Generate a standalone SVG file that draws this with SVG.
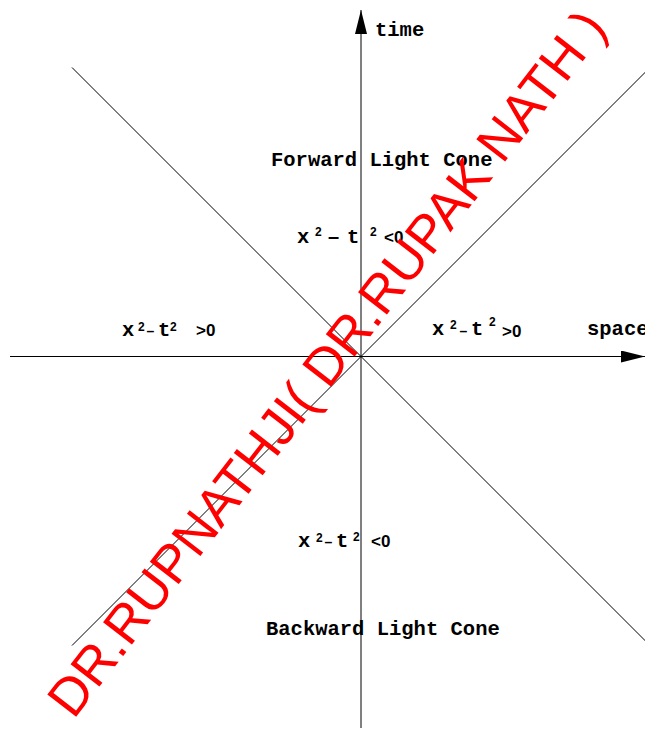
<svg xmlns="http://www.w3.org/2000/svg" width="645" height="732" viewBox="0 0 645 732">
<style>
.ln{stroke:#000;stroke-width:1;fill:none}
.m{font-family:"Liberation Mono","Courier New",monospace;font-weight:bold;font-size:20.5px;fill:#000}
.s{font-family:"Liberation Sans",Arial,sans-serif;fill:#000}
.sup{font-size:12px;font-weight:bold}
.mi{font-size:14px;font-weight:bold}
.mi2{font-size:20px;font-weight:bold}
.rel{font-size:17px;font-weight:bold}
.wm{font-family:"Liberation Sans",Arial,sans-serif;font-size:53px;fill:#ff0000}
</style>
<defs>
<marker id="ah" markerUnits="userSpaceOnUse" viewBox="0 0 24 12" refX="24" refY="6" markerWidth="24" markerHeight="12" orient="auto">
<path d="M0,0 L24,6 L0,12 z" fill="#000"/>
</marker>
</defs>
<rect width="645" height="732" fill="#fff"/>
<g id="connectors">
<line class="ln" x1="361" y1="728" x2="361" y2="10" marker-end="url(#ah)"/>
<line class="ln" x1="10" y1="356.5" x2="645" y2="356.5" marker-end="url(#ah)"/>
<line class="ln" x1="72" y1="67.5" x2="650" y2="645.5"/>
<line class="ln" x1="72" y1="645.5" x2="650" y2="67.5"/>
</g>
<g id="time-label"><text class="m" x="375" y="36">time</text></g>
<g id="space-label"><text class="m" x="587" y="335">space</text></g>
<g id="forward-cone"><text class="m" x="271" y="166">Forward Light Cone</text></g>
<g id="backward-cone"><text class="m" x="266" y="635">Backward Light Cone</text></g>
<g id="eq-top"><text class="m"><tspan x="297" y="243">x</tspan><tspan class="s sup" x="315" y="236">2</tspan><tspan class="s mi2" x="328" y="243">–</tspan><tspan x="347" y="243">t</tspan><tspan class="s sup" x="370" y="236">2</tspan><tspan class="s rel" x="384" y="243">&lt;0</tspan></text></g>
<g id="eq-left"><text class="m"><tspan x="122" y="336">x</tspan><tspan class="s sup" x="138" y="331">2</tspan><tspan class="s mi" x="146.5" y="335.5">–</tspan><tspan x="158" y="336">t</tspan><tspan class="s sup" x="170" y="331">2</tspan><tspan class="s rel" x="196" y="336">&gt;0</tspan></text></g>
<g id="eq-right"><text class="m"><tspan x="432" y="335">x</tspan><tspan class="s sup" x="450" y="329">2</tspan><tspan class="s mi" x="459.5" y="335.5">–</tspan><tspan x="471" y="335">t</tspan><tspan class="s sup" x="489" y="325.5">2</tspan><tspan class="s rel" x="502" y="337">&gt;0</tspan></text></g>
<g id="eq-bottom"><text class="m"><tspan x="298" y="547">x</tspan><tspan class="s sup" x="316" y="541.5">2</tspan><tspan class="s mi" x="324.5" y="546.5">–</tspan><tspan x="336" y="547">t</tspan><tspan class="s sup" x="353" y="540.5">2</tspan><tspan class="s rel" x="371" y="547">&lt;0</tspan></text></g>
<g id="watermark"><text class="wm" transform="translate(73.4,720.3) rotate(-52.3)">DR.RUPNATHJI( DR.RUPAK NATH )</text></g>
</svg>
